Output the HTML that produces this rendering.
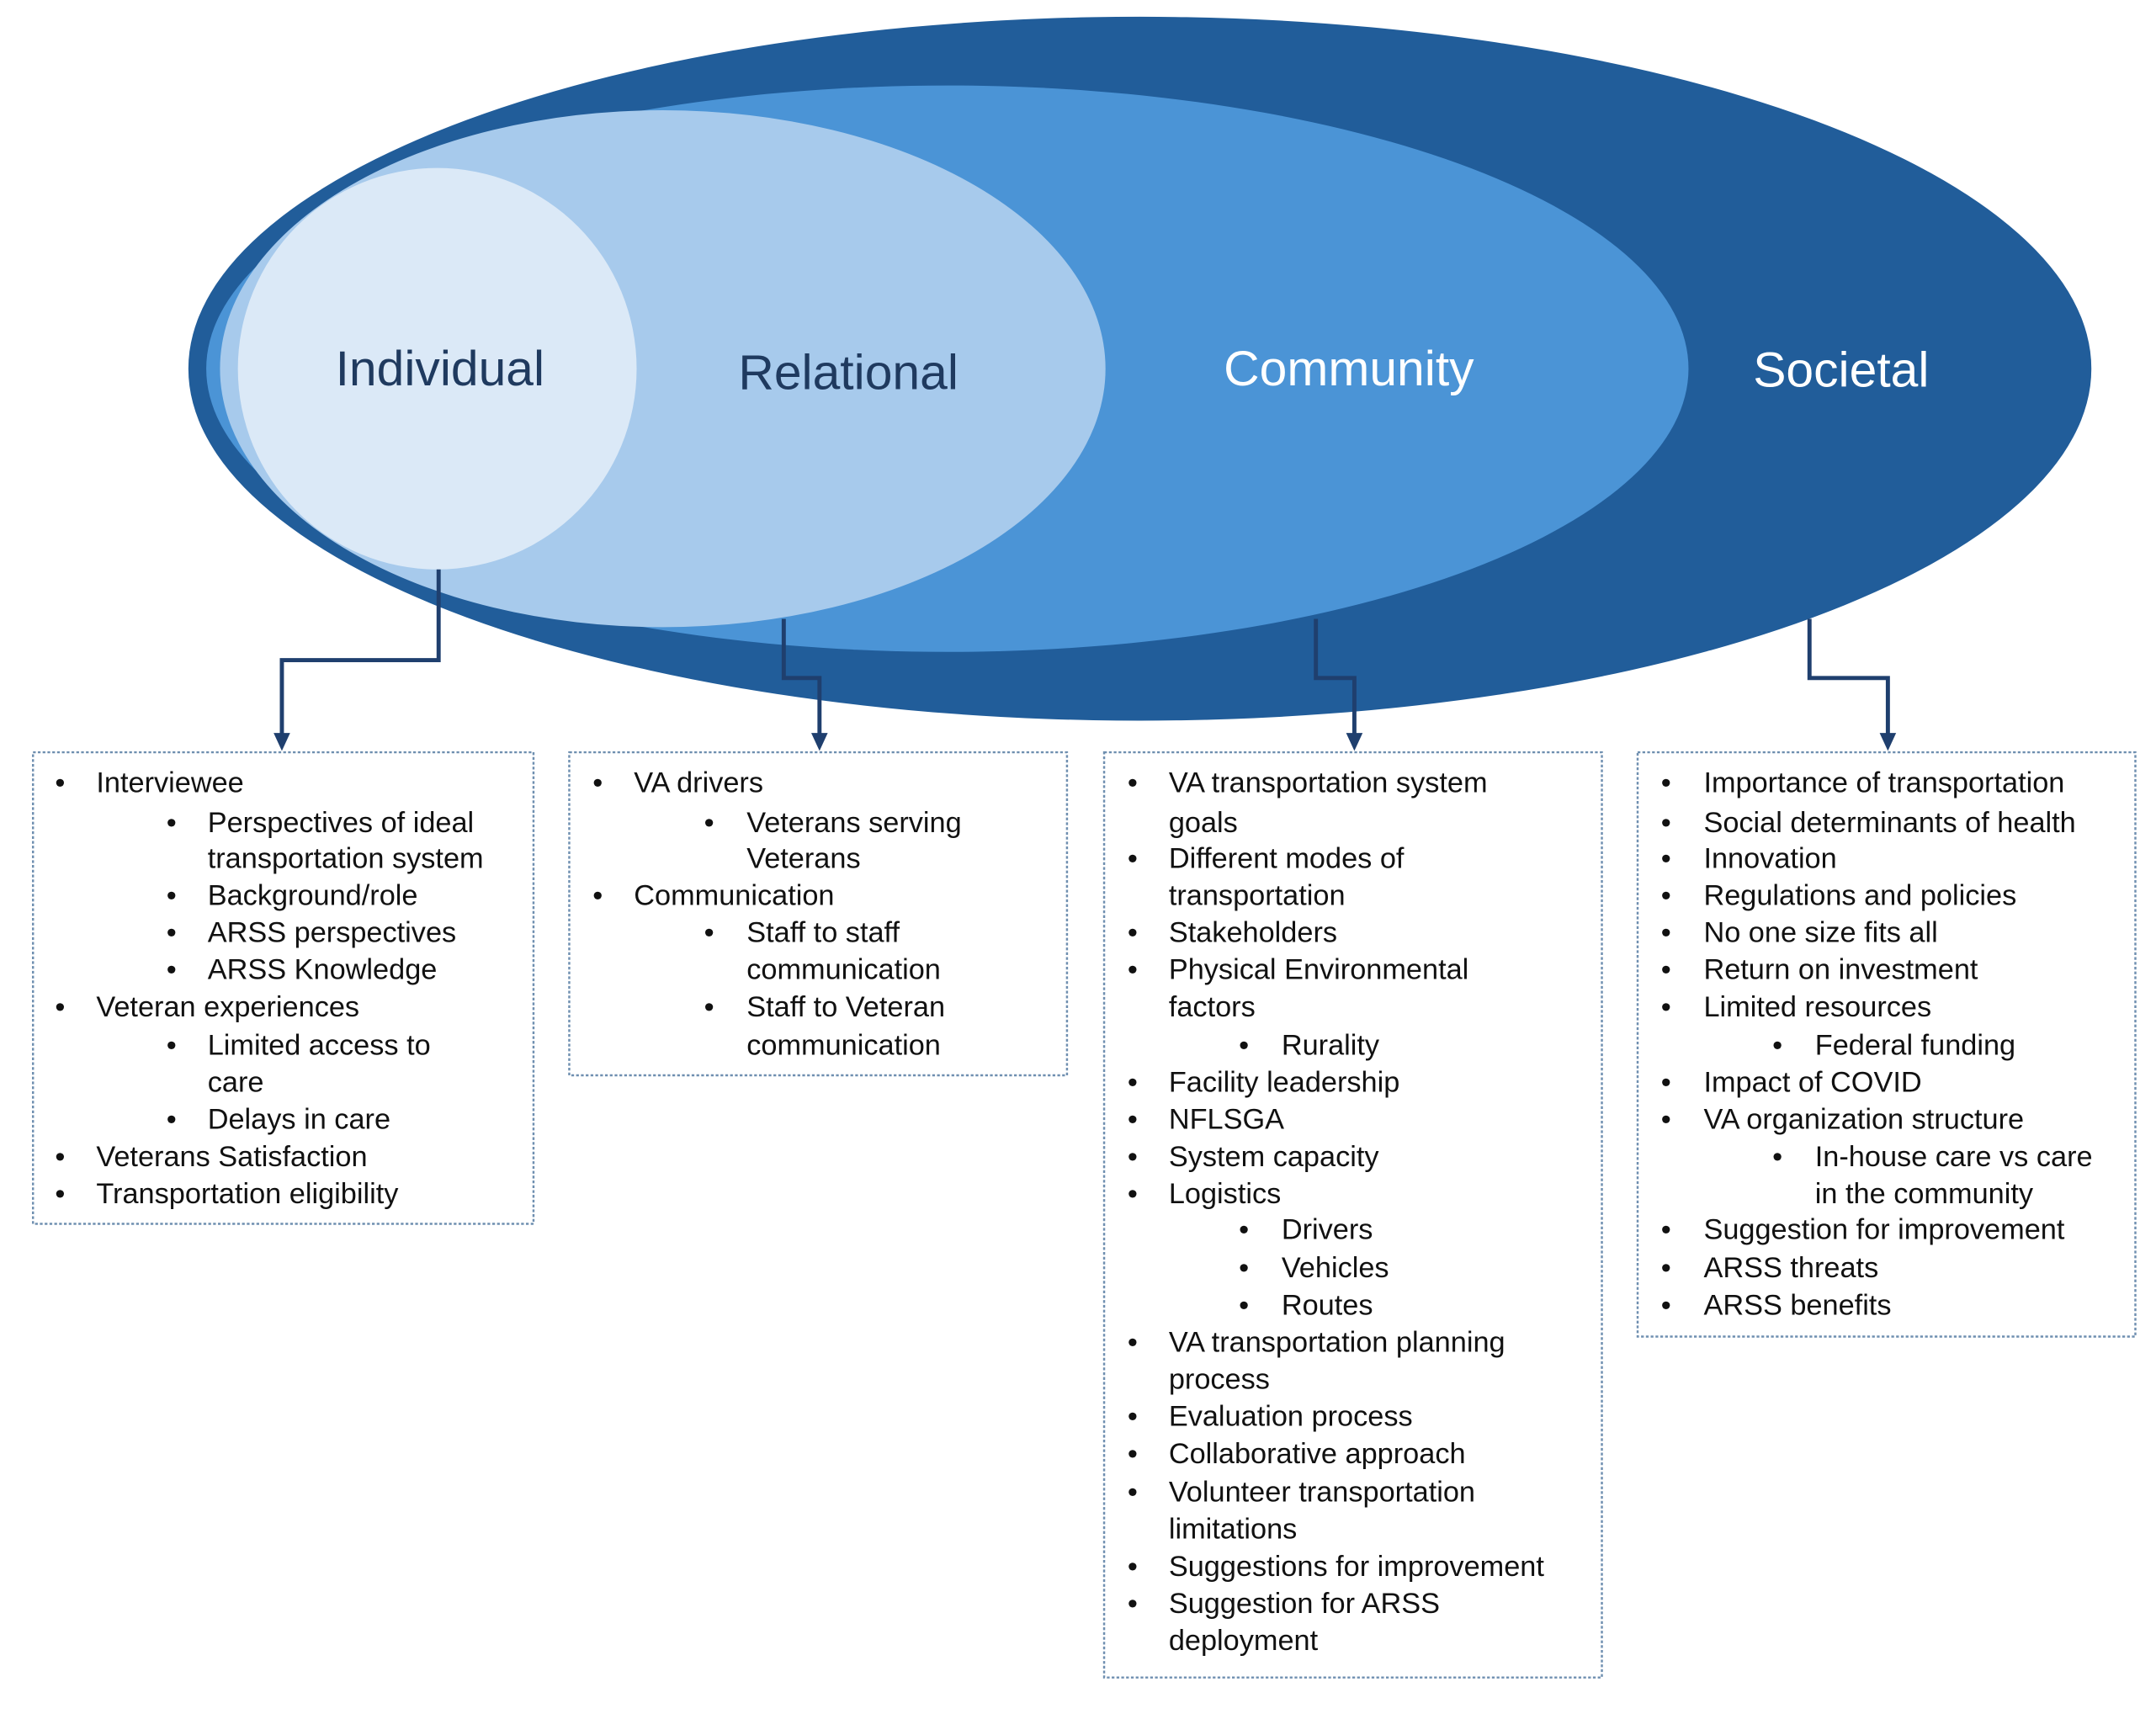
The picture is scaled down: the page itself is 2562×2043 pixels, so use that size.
<!DOCTYPE html>
<html><head><meta charset="utf-8"><style>
html,body{margin:0;padding:0;background:#fff;}
svg{display:block;}
text{font-family:"Liberation Sans",Arial,sans-serif;}
.t{font-size:21px;fill:#111;}
.h{font-size:36px;}
</style></head><body>
<svg width="2562" height="2043" viewBox="0 0 1568 1250" xmlns="http://www.w3.org/2000/svg">
<rect width="1568" height="1250" fill="#fff"/>
<ellipse cx="829" cy="268" rx="692" ry="256" fill="#215d9a"/>
<ellipse cx="689" cy="268" rx="539" ry="206" fill="#4b94d6"/>
<ellipse cx="482" cy="268" rx="322" ry="188" fill="#a7caec"/>
<ellipse cx="318" cy="268" rx="145" ry="146" fill="#dbe9f7"/>
<text class="h" x="320" y="280" text-anchor="middle" fill="#1f3a5f">Individual</text>
<text class="h" x="617" y="283" text-anchor="middle" fill="#1f3a5f">Relational</text>
<text class="h" x="981" y="280" text-anchor="middle" fill="#fff">Community</text>
<text class="h" x="1339" y="281" text-anchor="middle" fill="#fff">Societal</text>
<g fill="none" stroke="#1f3f6e" stroke-width="3">
<polyline points="319,414 319,480 205,480 205,536"/>
<polyline points="570,450 570,493 596,493 596,536"/>
<polyline points="957,450 957,493 985,493 985,536"/>
<polyline points="1316,450 1316,493 1373,493 1373,536"/>
</g>
<g fill="#1f3f6e">
<polygon points="199,533 211,533 205,546"/>
<polygon points="590,533 602,533 596,546"/>
<polygon points="979,533 991,533 985,546"/>
<polygon points="1367,533 1379,533 1373,546"/>
</g>
<g fill="none" stroke="#6f8fb0" stroke-width="1.5" stroke-dasharray="2,1.5">
<rect x="24" y="547" width="364" height="343"/>
<rect x="414" y="547" width="362" height="235"/>
<rect x="803" y="547" width="362" height="673"/>
<rect x="1191" y="547" width="362" height="425"/>
</g>
<g class="t">
<!-- box1 -->
<text x="40" y="576">•</text><text x="70" y="576">Interviewee</text>
<text x="121" y="605">•</text><text x="151" y="605">Perspectives of ideal</text>
<text x="151" y="631">transportation system</text>
<text x="121" y="658">•</text><text x="151" y="658">Background/role</text>
<text x="121" y="685">•</text><text x="151" y="685">ARSS perspectives</text>
<text x="121" y="712">•</text><text x="151" y="712">ARSS Knowledge</text>
<text x="40" y="739">•</text><text x="70" y="739">Veteran experiences</text>
<text x="121" y="767">•</text><text x="151" y="767">Limited access to</text>
<text x="151" y="794">care</text>
<text x="121" y="821">•</text><text x="151" y="821">Delays in care</text>
<text x="40" y="848">•</text><text x="70" y="848">Veterans Satisfaction</text>
<text x="40" y="875">•</text><text x="70" y="875">Transportation eligibility</text>
<!-- box2 -->
<text x="431" y="576">•</text><text x="461" y="576">VA drivers</text>
<text x="512" y="605">•</text><text x="543" y="605">Veterans serving</text>
<text x="543" y="631">Veterans</text>
<text x="431" y="658">•</text><text x="461" y="658">Communication</text>
<text x="512" y="685">•</text><text x="543" y="685">Staff to staff</text>
<text x="543" y="712">communication</text>
<text x="512" y="739">•</text><text x="543" y="739">Staff to Veteran</text>
<text x="543" y="767">communication</text>
<!-- box3 -->
<text x="820" y="576">•</text><text x="850" y="576">VA transportation system</text>
<text x="850" y="605">goals</text>
<text x="820" y="631">•</text><text x="850" y="631">Different modes of</text>
<text x="850" y="658">transportation</text>
<text x="820" y="685">•</text><text x="850" y="685">Stakeholders</text>
<text x="820" y="712">•</text><text x="850" y="712">Physical Environmental</text>
<text x="850" y="739">factors</text>
<text x="901" y="767">•</text><text x="932" y="767">Rurality</text>
<text x="820" y="794">•</text><text x="850" y="794">Facility leadership</text>
<text x="820" y="821">•</text><text x="850" y="821">NFLSGA</text>
<text x="820" y="848">•</text><text x="850" y="848">System capacity</text>
<text x="820" y="875">•</text><text x="850" y="875">Logistics</text>
<text x="901" y="901">•</text><text x="932" y="901">Drivers</text>
<text x="901" y="929">•</text><text x="932" y="929">Vehicles</text>
<text x="901" y="956">•</text><text x="932" y="956">Routes</text>
<text x="820" y="983">•</text><text x="850" y="983">VA transportation planning</text>
<text x="850" y="1010">process</text>
<text x="820" y="1037">•</text><text x="850" y="1037">Evaluation process</text>
<text x="820" y="1064">•</text><text x="850" y="1064">Collaborative approach</text>
<text x="820" y="1092">•</text><text x="850" y="1092">Volunteer transportation</text>
<text x="850" y="1119">limitations</text>
<text x="820" y="1146">•</text><text x="850" y="1146">Suggestions for improvement</text>
<text x="820" y="1173">•</text><text x="850" y="1173">Suggestion for ARSS</text>
<text x="850" y="1200">deployment</text>
<!-- box4 -->
<text x="1208" y="576">•</text><text x="1239" y="576">Importance of transportation</text>
<text x="1208" y="605">•</text><text x="1239" y="605">Social determinants of health</text>
<text x="1208" y="631">•</text><text x="1239" y="631">Innovation</text>
<text x="1208" y="658">•</text><text x="1239" y="658">Regulations and policies</text>
<text x="1208" y="685">•</text><text x="1239" y="685">No one size fits all</text>
<text x="1208" y="712">•</text><text x="1239" y="712">Return on investment</text>
<text x="1208" y="739">•</text><text x="1239" y="739">Limited resources</text>
<text x="1289" y="767">•</text><text x="1320" y="767">Federal funding</text>
<text x="1208" y="794">•</text><text x="1239" y="794">Impact of COVID</text>
<text x="1208" y="821">•</text><text x="1239" y="821">VA organization structure</text>
<text x="1289" y="848">•</text><text x="1320" y="848">In-house care vs care</text>
<text x="1320" y="875">in the community</text>
<text x="1208" y="901">•</text><text x="1239" y="901">Suggestion for improvement</text>
<text x="1208" y="929">•</text><text x="1239" y="929">ARSS threats</text>
<text x="1208" y="956">•</text><text x="1239" y="956">ARSS benefits</text>
</g>
</svg>
</body></html>
